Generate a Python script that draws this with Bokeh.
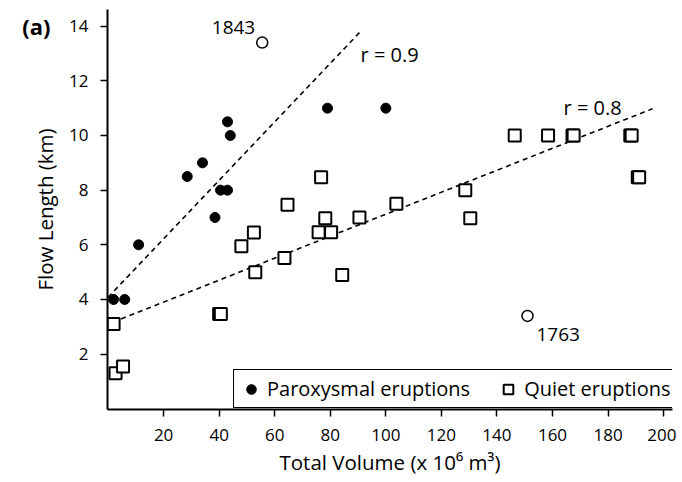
from bokeh.plotting import figure
from bokeh.models import Range1d, FixedTicker, Label, ColumnDataSource, LinearAxis
from bokeh.embed import file_html
from bokeh.resources import INLINE
from bokeh.core.properties import value

FONT = "Open Sans"

# Paroxysmal eruptions (filled circles)
par_vol = [2, 6, 11, 28.5, 34, 38.5, 40.5, 43, 43, 44, 79, 100]
par_len = [4, 4, 6, 8.5, 9, 7, 8, 8, 10.5, 10, 11, 11]

# Quiet eruptions (open squares)
qui_vol = [2, 2.7, 5.4, 40, 40.6, 48, 52.5, 53, 63.5, 64.6, 75.8, 76.7, 78.2, 80.3, 84.3,
           90.5, 103.8, 128.6, 130.4, 146.4, 158.4, 167.2, 167.6, 188, 188.5, 190.7, 191.2]
qui_len = [3.1, 1.3, 1.55, 3.47, 3.47, 5.95, 6.45, 5.0, 5.52, 7.47, 6.46, 8.47, 6.97, 6.46, 4.9,
           7.0, 7.5, 8.0, 6.97, 10.0, 10.0, 10.0, 10.0, 10.0, 10.0, 8.47, 8.47]

# Outlier eruptions (open circles)
out_vol = [55.5, 151]
out_len = [13.4, 3.4]
out_year = ["1843", "1763"]

# Regression lines: intercept, slope, x extent
fit_par = dict(b=4.08, m=0.107, x0=0.0, x1=91.0, label="r = 0.9")
fit_qui = dict(b=3.10, m=0.0402, x0=4.7, x1=196.0, label="r = 0.8")

x_ticks = [20, 40, 60, 80, 100, 120, 140, 160, 180, 200]
y_ticks = [2, 4, 6, 8, 10, 12, 14]
panel_tag = "(a)"

p = figure(width=676, height=478, output_backend="svg", toolbar_location=None,
           x_range=Range1d(-0.2, 203.2), y_range=Range1d(-0.025, 14.61),
           min_border_left=107, min_border_right=4, min_border_top=9, min_border_bottom=64)
p.outline_line_color = None
p.grid.visible = False
p.background_fill_color = "white"

for ax, ticks in ((p.xaxis[0], x_ticks), (p.yaxis[0], y_ticks)):
    ax.ticker = FixedTicker(ticks=ticks)
    ax.axis_line_width = 2
    ax.axis_line_color = "black"
    ax.major_tick_line_width = 1.5
    ax.major_tick_line_color = "black"
    ax.major_tick_out = 7
    ax.major_tick_in = 0
    ax.minor_tick_line_color = None
    ax.major_label_text_font = FONT
    ax.major_label_text_font_size = "17px"
    ax.major_label_text_color = "black"
    ax.axis_label_text_font = FONT
    ax.axis_label_text_font_size = "20.5px"
    ax.axis_label_text_font_style = "normal"
    ax.axis_label_text_color = "black"

p.xaxis.axis_label = "Total Volume (x 10\u2076 m\u00b3)"
p.yaxis.axis_label = "Flow Length (km)"
p.yaxis.major_label_standoff = 12
p.xaxis.major_label_standoff = 12
p.yaxis.axis_label_standoff = 7
p.xaxis.axis_label_standoff = 4

# panel tag drawn as the only label of an extra, line-less axis on the left
tag_axis = LinearAxis(ticker=FixedTicker(ticks=[y_ticks[-1]]),
                      major_label_overrides={y_ticks[-1]: panel_tag},
                      axis_line_color=None, major_tick_line_color=None,
                      minor_tick_line_color=None, major_tick_out=0, major_tick_in=0,
                      major_label_standoff=-22, major_label_text_font=FONT,
                      major_label_text_font_size="22px", major_label_text_font_style="bold",
                      major_label_text_color="black")
p.add_layout(tag_axis, "left")

# regression lines
for f in (fit_par, fit_qui):
    xs = [f["x0"], f["x1"]]
    ys = [f["b"] + f["m"] * x for x in xs]
    p.line(xs, ys, line_color="black", line_width=1.6, line_dash="5 4")

p.scatter(qui_vol, qui_len, marker="square", size=12, fill_color="white",
          line_color="black", line_width=2, legend_label="Quiet eruptions")
p.scatter(par_vol, par_len, marker="circle", size=10, fill_color="black",
          line_color="black", legend_label="Paroxysmal eruptions")
p.scatter(out_vol, out_len, marker="circle", size=11, fill_color="white",
          line_color="black", line_width=1.5)

src = ColumnDataSource(dict(x=[out_vol[0]], y=[out_len[0]], t=[out_year[0]]))
p.text(x="x", y="y", text="t", source=src, x_offset=-7, y_offset=-15,
       text_align="right", text_baseline="middle", text_font=value(FONT),
       text_font_size="19px", text_color="black")
src2 = ColumnDataSource(dict(x=[out_vol[1]], y=[out_len[1]], t=[out_year[1]]))
p.text(x="x", y="y", text="t", source=src2, x_offset=9, y_offset=19,
       text_align="left", text_baseline="middle", text_font=value(FONT),
       text_font_size="19px", text_color="black")

p.add_layout(Label(x=90.9, y=12.95, text=fit_par["label"], text_font=FONT,
                   text_font_size="20px", text_baseline="middle", text_align="left",
                   text_color="black"))
p.add_layout(Label(x=164, y=11.03, text=fit_qui["label"], text_font=FONT,
                   text_font_size="20px", text_baseline="middle", text_align="left",
                   text_color="black"))

lg = p.legend[0]
lg.orientation = "horizontal"
lg.location = (126, 1)
lg.margin = 0
lg.padding = 5
lg.spacing = 26
lg.glyph_width = 24
lg.glyph_height = 24
lg.label_standoff = 4
lg.label_text_font = FONT
lg.label_text_font_size = "20px"
lg.label_text_color = "black"
lg.border_line_color = "black"
lg.border_line_alpha = 1
lg.border_line_width = 1.5
lg.background_fill_alpha = 1
lg.items = [lg.items[1], lg.items[0]]

open("out.html", "w").write(file_html(p, INLINE))
